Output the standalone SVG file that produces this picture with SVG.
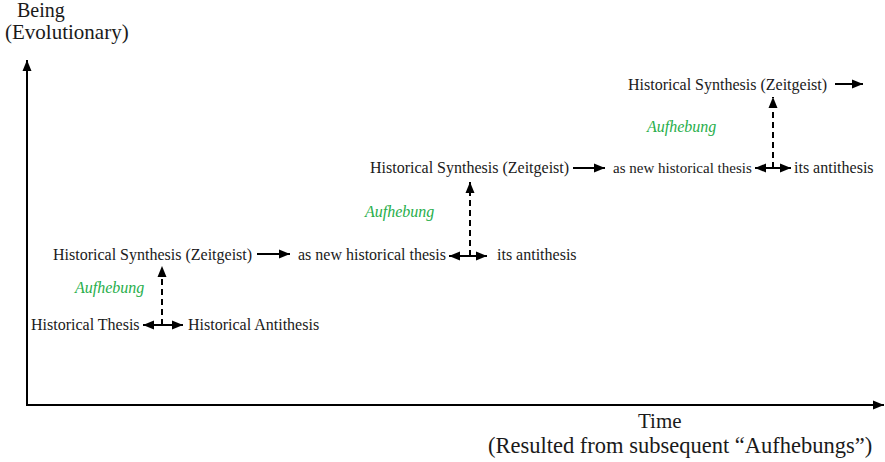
<svg xmlns="http://www.w3.org/2000/svg" width="885" height="462" viewBox="0 0 885 462">
<style>
text{font-family:"Liberation Serif","Times New Roman","DejaVu Serif",serif;fill:#1a1a1a;font-size:16px}
.ax{font-size:21px}
.auf{fill:#27ae4a;font-style:italic}
.ln{stroke:#000;stroke-width:2;fill:none}
.dash{stroke:#000;stroke-width:2;fill:none;stroke-dasharray:6,4}
</style>
<defs>
<marker id="ah" markerUnits="userSpaceOnUse" markerWidth="12" markerHeight="10" refX="11" refY="5" orient="auto-start-reverse">
<path d="M0,0.5 L11,5 L0,9.5 Z" fill="#000"/>
</marker>
</defs>
<g id="connectors">
<line class="ln" x1="27" y1="405" x2="27" y2="60" marker-end="url(#ah)"/>
<line class="ln" x1="26" y1="405" x2="884" y2="405" marker-end="url(#ah)"/>
<line class="ln" x1="257" y1="254" x2="290" y2="254" marker-end="url(#ah)"/>
<line class="ln" x1="573" y1="168" x2="605" y2="168" marker-end="url(#ah)"/>
<line class="ln" x1="835" y1="84" x2="863" y2="84" marker-end="url(#ah)"/>
<line class="ln" x1="143" y1="325" x2="183" y2="325" marker-start="url(#ah)" marker-end="url(#ah)"/>
<line class="ln" x1="449" y1="256" x2="487" y2="256" marker-start="url(#ah)" marker-end="url(#ah)"/>
<line class="ln" x1="755" y1="168" x2="791" y2="168" marker-start="url(#ah)" marker-end="url(#ah)"/>
<line class="dash" x1="162" y1="325" x2="162" y2="266" marker-end="url(#ah)"/>
<line class="dash" x1="470" y1="256" x2="470" y2="182" marker-end="url(#ah)"/>
<line class="dash" x1="773" y1="168" x2="773" y2="97" marker-end="url(#ah)"/>
</g>
<g id="axis-y-label"><text class="ax" x="17" y="17" style="font-size:20px">Being</text><text class="ax" x="5" y="39">(Evolutionary)</text></g>
<g id="axis-x-label"><text class="ax" x="638" y="428">Time</text><text class="ax" x="488" y="453" style="font-size:22.5px">(Resulted from subsequent “Aufhebungs”)</text></g>
<g id="thesis1"><text x="31" y="330">Historical Thesis</text></g>
<g id="antithesis1"><text x="188" y="330">Historical Antithesis</text></g>
<g id="auf1"><text class="auf" x="75" y="293">Aufhebung</text></g>
<g id="synthesis1"><text x="53" y="260">Historical Synthesis (Zeitgeist)</text></g>
<g id="thesis2"><text x="298" y="260">as new historical thesis</text></g>
<g id="antithesis2"><text x="497" y="260">its antithesis</text></g>
<g id="auf2"><text class="auf" x="365" y="217">Aufhebung</text></g>
<g id="synthesis2"><text x="370" y="173">Historical Synthesis (Zeitgeist)</text></g>
<g id="thesis3"><text x="613" y="173" style="font-size:15px">as new historical thesis</text></g>
<g id="antithesis3"><text x="794" y="173">its antithesis</text></g>
<g id="auf3"><text class="auf" x="647" y="132">Aufhebung</text></g>
<g id="synthesis3"><text x="628" y="90">Historical Synthesis (Zeitgeist)</text></g>
</svg>
